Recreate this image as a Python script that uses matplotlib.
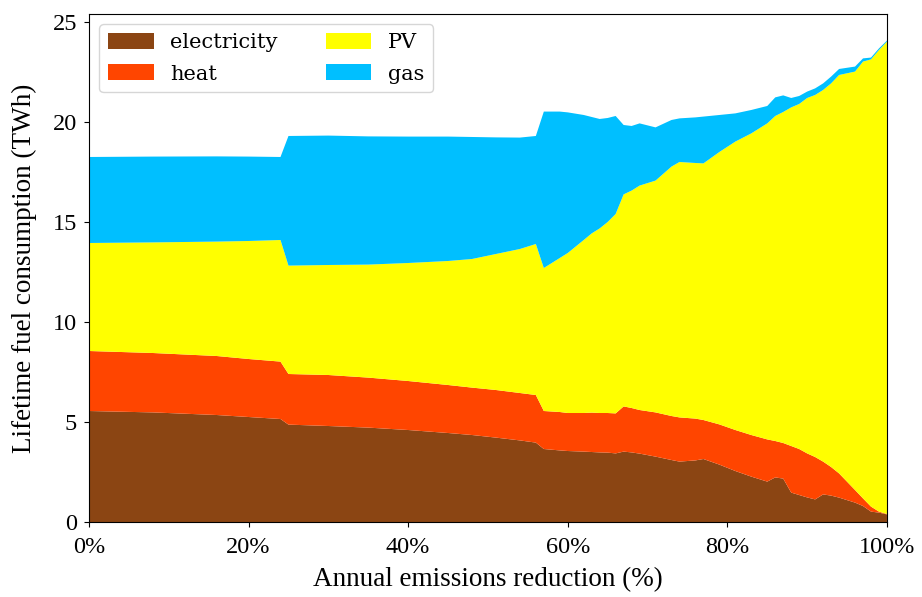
import numpy as np
import matplotlib
matplotlib.use('Agg')
import matplotlib.pyplot as plt
from matplotlib.ticker import FuncFormatter

# annual emissions reduction (%)
reduction = [0, 8, 16, 20, 24, 25, 30, 35, 40, 45, 48, 51, 54, 56, 57, 59, 60, 62,
             63, 64, 65, 66, 67, 68, 69, 71, 73, 74, 76, 77, 79, 81, 83, 85, 86,
             87, 88, 89, 90, 91, 92, 93, 94, 96, 97, 98, 99, 100]

# cumulative tops of each layer (TWh)
top_electricity = [5.55, 5.48, 5.35, 5.25, 5.15, 4.87, 4.80, 4.72, 4.60, 4.45, 4.35, 4.22,
                   4.08, 3.97, 3.65, 3.58, 3.55, 3.52, 3.50, 3.48, 3.47, 3.43, 3.52, 3.48,
                   3.42, 3.27, 3.10, 3.02, 3.08, 3.15, 2.87, 2.55, 2.27, 2.02, 2.23, 2.17,
                   1.47, 1.35, 1.23, 1.13, 1.38, 1.32, 1.22, 0.97, 0.80, 0.52, 0.47, 0.38]
top_heat = [8.55, 8.45, 8.30, 8.15, 8.02, 7.40, 7.35, 7.22, 7.05, 6.85, 6.72, 6.60,
            6.45, 6.35, 5.55, 5.50, 5.45, 5.45, 5.47, 5.45, 5.45, 5.43, 5.78, 5.70,
            5.60, 5.48, 5.30, 5.23, 5.17, 5.10, 4.88, 4.60, 4.35, 4.13, 4.05, 3.95,
            3.80, 3.65, 3.43, 3.25, 3.02, 2.75, 2.43, 1.60, 1.18, 0.77, 0.52, 0.40]
top_pv = [13.95, 13.98, 14.02, 14.05, 14.10, 12.82, 12.85, 12.87, 12.95, 13.05, 13.15, 13.40,
          13.65, 13.90, 12.70, 13.20, 13.45, 14.10, 14.43, 14.68, 15.00, 15.40, 16.38, 16.57,
          16.82, 17.07, 17.77, 18.00, 17.95, 17.93, 18.50, 19.02, 19.43, 19.93, 20.30, 20.50,
          20.73, 20.90, 21.20, 21.35, 21.60, 21.93, 22.35, 22.52, 23.02, 23.13, 23.60, 24.02]
top_gas = [18.25, 18.27, 18.28, 18.27, 18.25, 19.30, 19.32, 19.28, 19.27, 19.27, 19.25, 19.23,
           19.22, 19.30, 20.52, 20.52, 20.48, 20.35, 20.25, 20.15, 20.20, 20.30, 19.85, 19.80,
           19.93, 19.73, 20.10, 20.18, 20.23, 20.27, 20.35, 20.43, 20.60, 20.80, 21.23, 21.33,
           21.20, 21.30, 21.52, 21.68, 21.93, 22.27, 22.65, 22.77, 23.18, 23.22, 23.68, 24.07]

labels = ['electricity', 'heat', 'PV', 'gas']
colors = ['#8B4513', '#FF4500', '#FFFF00', '#00BFFF']


def main():
    tops = np.array([top_electricity, top_heat, top_pv, top_gas])
    layers = np.diff(np.vstack([np.zeros(len(reduction)), tops]), axis=0)

    fig = plt.figure(figsize=(9.22, 5.97), dpi=100)
    ax = fig.add_axes([0.0965, 0.1256, 0.8655, 0.851])

    ax.stackplot(reduction, layers, labels=labels, colors=colors)
    ax.set_xlim(0, 100)
    ax.set_ylim(0, 25.4)

    serif = 'Liberation Serif'
    ax.set_xlabel('Annual emissions reduction (%)', family=serif, fontsize=19.5, labelpad=7)
    ax.set_ylabel('Lifetime fuel consumption (TWh)', family=serif, fontsize=19.5, labelpad=11)
    ax.xaxis.set_major_formatter(FuncFormatter(lambda v, p: f'{v:.0f}%'))
    ax.set_xticks([0, 20, 40, 60, 80, 100])
    ax.set_yticks([0, 5, 10, 15, 20, 25])
    ax.tick_params(axis='x', pad=7)
    ax.tick_params(axis='y', pad=5)
    for t in ax.get_xticklabels() + ax.get_yticklabels():
        t.set_family(serif)
        t.set_fontsize(17.5)

    ax.legend(loc='upper left', ncol=2, prop={'family': 'DejaVu Serif', 'size': 15},
              handlelength=2.2, handleheight=0.8, labelspacing=0.6, columnspacing=2.3)

    fig.savefig('out.png', dpi=100)


if __name__ == '__main__':
    main()
